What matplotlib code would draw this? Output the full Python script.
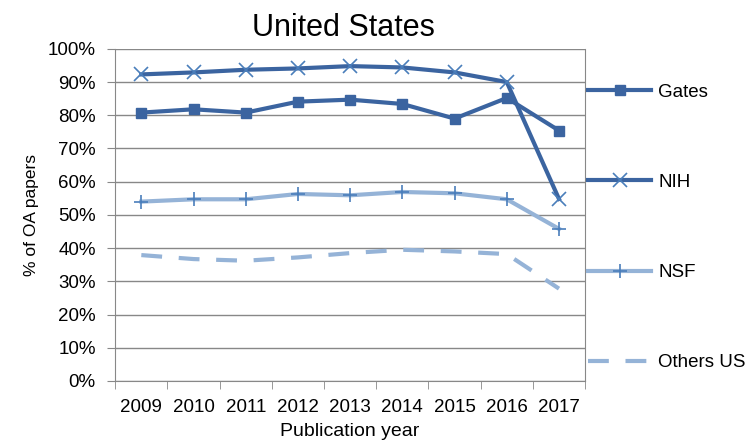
import numpy as np
import matplotlib.pyplot as plt

plt.rcParams['font.family'] = ['Liberation Sans', 'DejaVu Sans']

years = ['2009', '2010', '2011', '2012', '2013', '2014', '2015', '2016', '2017']
gates = [80.8, 81.8, 80.8, 84.1, 84.7, 83.4, 79.0, 85.2, 75.4]
nih = [92.3, 92.9, 93.7, 94.1, 94.8, 94.4, 92.9, 90.0, 54.8]
nsf = [54.0, 54.7, 54.7, 56.3, 55.9, 56.9, 56.5, 54.7, 45.8]
others = [37.9, 36.7, 36.2, 37.2, 38.5, 39.5, 39.0, 38.2, 27.8]

dark = '#3B64A0'
light = '#95B3D7'
mark = '#4A7EBB'

fig = plt.figure(figsize=(7.53, 4.44), dpi=100)
ax = fig.add_axes([0.153, 0.142, 0.624, 0.748])

x = np.arange(len(years))
ax.plot(x, gates, color=dark, lw=3, marker='s', ms=7, label='Gates')
ax.plot(x, nih, color=dark, lw=3, marker='x', ms=10, mew=1.2, mec=mark, label='NIH')
ax.plot(x, nsf, color=light, lw=3, marker='+', ms=10, mew=1.2, mec=mark, label='NSF')
ax.plot(x, others, color=light, lw=3, ls=(0, (5, 4)), label='Others US')

ax.set_xlim(-0.5, len(years) - 0.5)
ax.set_ylim(0, 100)
ax.set_yticks(np.arange(0, 101, 10))
ax.set_yticklabels([f'{v}%' for v in range(0, 101, 10)])
ax.set_xticks(x)
ax.set_xticklabels(years)
ax.set_xticks(np.arange(-0.5, len(years), 1), minor=True)
ax.tick_params(axis='x', which='major', length=0, labelsize=13.5, pad=13)
ax.tick_params(axis='x', which='minor', length=6, color='#888888')
ax.tick_params(axis='y', length=6, color='#888888', labelsize=13.5, pad=8)
ax.grid(axis='y', color='#888888', lw=1)
ax.set_axisbelow(True)
for s in ['left', 'right', 'bottom']:
    ax.spines[s].set_color('#888888')
ax.spines['top'].set_visible(False)

ax.set_title('United States', fontsize=22, pad=9, x=0.486)
ax.set_xlabel('Publication year', fontsize=14, labelpad=5)
ax.set_ylabel('% of OA papers', fontsize=12.5, labelpad=6)

fig.legend(loc='upper left', bbox_to_anchor=(0.781, 0.812), frameon=False,
           fontsize=13.5, labelspacing=3.9, handlelength=3.36, handletextpad=0.37,
           borderpad=0, borderaxespad=0)

plt.savefig('out.png', dpi=100)
